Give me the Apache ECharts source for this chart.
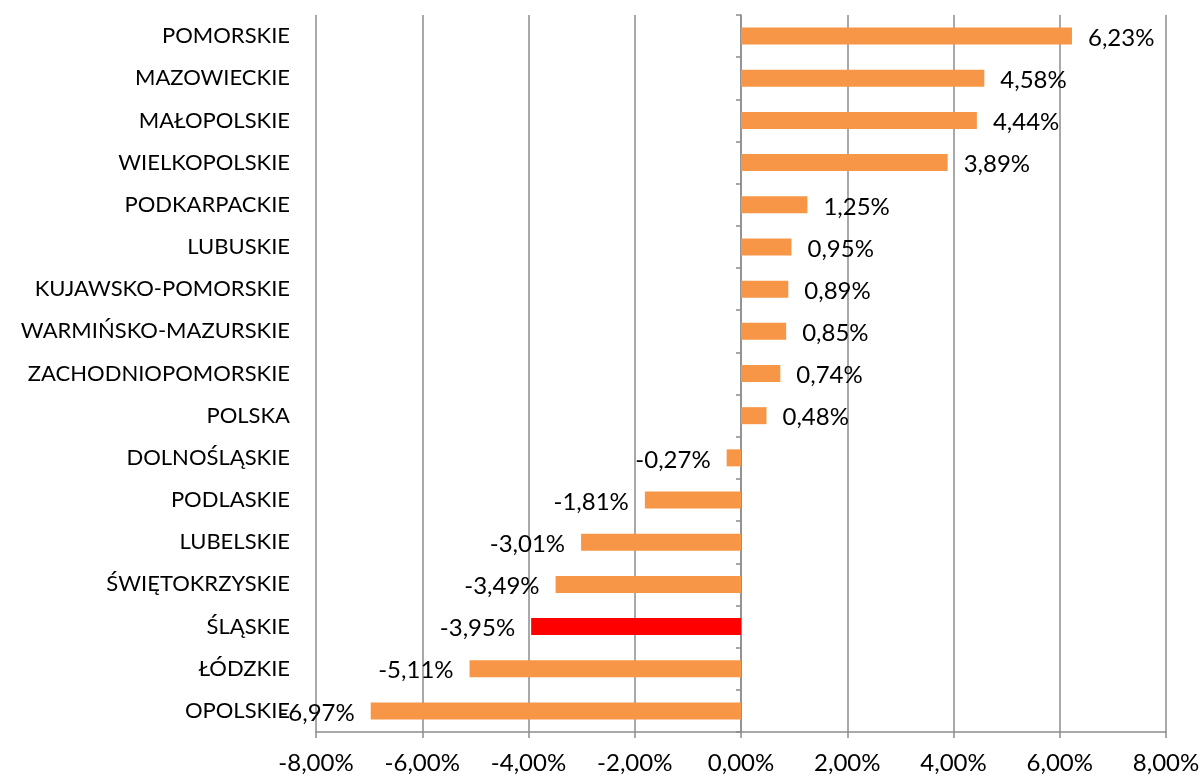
<!DOCTYPE html>
<html>
<head>
<meta charset="utf-8">
<script src="https://cdn.jsdelivr.net/npm/echarts@6/dist/echarts.min.js"></script>
<style>
    html, body { margin: 0; padding: 0; background: #fff; }
    #main { width: 1203px; height: 778px; }
</style>
</head>
<body>
<div id="main"></div>
<script>
    // województwa, od góry do dołu
    var categories = ['POMORSKIE', 'MAZOWIECKIE', 'MAŁOPOLSKIE', 'WIELKOPOLSKIE', 'PODKARPACKIE',
        'LUBUSKIE', 'KUJAWSKO-POMORSKIE', 'WARMIŃSKO-MAZURSKIE', 'ZACHODNIOPOMORSKIE', 'POLSKA',
        'DOLNOŚLĄSKIE', 'PODLASKIE', 'LUBELSKIE', 'ŚWIĘTOKRZYSKIE', 'ŚLĄSKIE', 'ŁÓDZKIE', 'OPOLSKIE'];
    var values = [6.23, 4.58, 4.44, 3.89, 1.25, 0.95, 0.89, 0.85, 0.74, 0.48,
        -0.27, -1.81, -3.01, -3.49, -3.95, -5.11, -6.97];
    var highlighted = ['ŚLĄSKIE'];

    var font = 'Lato, Calibri, sans-serif';
    var gray = '#8c8c8c';

    function pct(v) {
        return v.toFixed(2).replace('.', ',') + '%';
    }

    var data = values.map(function (v, i) {
        return {
            value: v,
            itemStyle: { color: highlighted.indexOf(categories[i]) >= 0 ? '#ff0000' : '#f79646' },
            label: { position: v >= 0 ? 'right' : 'left' }
        };
    });

    var myChart = echarts.init(document.getElementById('main'));
    myChart.setOption({
        animation: false,
        grid: { left: 316, right: 37, top: 15, bottom: 46 },
        xAxis: {
            type: 'value',
            min: -8,
            max: 8,
            interval: 2,
            axisLine: { show: true, lineStyle: { color: gray, width: 1.5 } },
            axisTick: { show: true, length: 6, lineStyle: { color: gray, width: 1.5 } },
            splitLine: { show: true, lineStyle: { color: gray, width: 1.5 } },
            axisLabel: {
                color: '#000', fontSize: 24, fontFamily: font, margin: 19,
                formatter: function (v) { return pct(v); }
            }
        },
        yAxis: [
            {
                type: 'category',
                data: categories,
                inverse: true,
                axisLine: { show: true, onZero: true, lineStyle: { color: gray, width: 1.5 } },
                axisTick: { show: true, length: 5, lineStyle: { color: gray, width: 1.5 } },
                axisLabel: { show: false }
            },
            {
                type: 'category',
                data: categories,
                inverse: true,
                position: 'left',
                axisLine: { show: false, onZero: false },
                axisTick: { show: false },
                axisLabel: { color: '#000', fontSize: 22, fontFamily: font, margin: 26 }
            }
        ],
        series: [{
            type: 'bar',
            yAxisIndex: 0,
            barWidth: 17,
            data: data,
            label: {
                show: true,
                distance: 16,
                color: '#000',
                fontSize: 24,
                fontFamily: font,
                offset: [0, 2],
                formatter: function (p) { return pct(p.value); }
            }
        }]
    });
</script>
</body>
</html>
